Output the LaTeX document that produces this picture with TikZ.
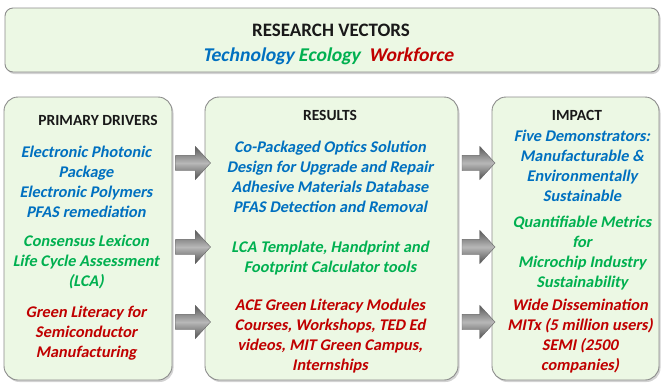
\documentclass[tikz,border=0pt]{standalone}
\usepackage{fontspec}
\setmainfont{Carlito}
\newfontfamily\slantfont{Carlito}[UprightFeatures={FakeSlant=0.2},BoldFeatures={FakeSlant=0.2}]
\usetikzlibrary{shapes.arrows,shadows}
\definecolor{techblue}{RGB}{0,112,192}
\definecolor{ecogreen}{RGB}{0,176,80}
\definecolor{workred}{RGB}{192,0,0}
\definecolor{panelfill}{RGB}{236,248,228}
\begin{document}
\begin{tikzpicture}[x=1pt,y=-1pt,font=\slantfont\bfseries\fontsize{16.3}{20}\selectfont,
  panel/.style={draw=black!45,line width=.9pt,fill=panelfill,rounded corners=14pt,
    drop shadow={opacity=.35,shadow xshift=1.5pt,shadow yshift=-2pt}},
  head/.style={font=\rmfamily\bfseries\fontsize{15.5}{19}\selectfont,text=black!90},
  items/.style={align=center},
  fatarrow/.style={single arrow,single arrow head extend=9pt,single arrow tip angle=95,
    inner xsep=0pt,inner ysep=7.5pt,minimum width=1pt,draw=black!60,line width=.4pt,
    top color=black!65,bottom color=black!68,middle color=black!28}]
\useasboundingbox (0,0) rectangle (662,384);
% panels
\node[panel,rounded corners=8pt,minimum width=654pt,minimum height=64pt] (vectors) at (332,40) {};
\node[panel,minimum width=168pt,minimum height=283pt] (drivers) at (88,238.5) {};
\node[panel,minimum width=253pt,minimum height=283pt] (results) at (331.5,238.5) {};
\node[panel,minimum width=167pt,minimum height=283pt] (impact) at (575.5,238.5) {};
% arrows between the panels
\foreach \y in {163,247,322} {
  \path (drivers.east |- 0,\y) -- (results.west |- 0,\y)
    node[midway,fatarrow,minimum height=35pt,xshift=1pt] (dr\y) {};
  \path (results.east |- 0,\y) -- (impact.west |- 0,\y)
    node[midway,fatarrow,minimum height=33pt] (ri\y) {};
}
% research vectors
\node[head,font=\rmfamily\bfseries\fontsize{19}{22}\selectfont] (rvtitle) at (331,30) {RESEARCH VECTORS};
\node[font=\slantfont\bfseries\fontsize{19.5}{22}\selectfont] (rvlist) at (328,56)
  {\textcolor{techblue}{Technology} \textcolor{ecogreen}{Ecology}\ \ \textcolor{workred}{Workforce}};
% primary drivers
\node[head] (drhead) at (98,120) {PRIMARY DRIVERS};
\node[items,techblue] (drtech) at (86,182) {Electronic Photonic\\Package\\Electronic Polymers\\PFAS remediation};
\node[items,ecogreen] (dreco) at (86,262) {Consensus Lexicon\\Life Cycle Assessment\\(LCA)};
\node[items,workred] (drwork) at (86,333) {Green Literacy for\\Semiconductor\\Manufacturing};
% results
\node[head] (rshead) at (330,115) {RESULTS};
\node[items,techblue] (rstech) at (330,177) {Co-Packaged Optics Solution\\Design for Upgrade and Repair\\Adhesive Materials Database\\PFAS Detection and Removal};
\node[items,ecogreen] (rseco) at (330,258) {LCA Template, Handprint and\\Footprint Calculator tools};
\node[items,workred] (rswork) at (330,336.5) {ACE Green Literacy Modules\\Courses, Workshops, TED Ed\\videos, MIT Green Campus,\\Internships};
% impact
\node[head] (imhead) at (577,115) {IMPACT};
\node[items,techblue] (imtech) at (582,165.5) {Five Demonstrators:\\Manufacturable \&\\Environmentally\\Sustainable};
\node[items,ecogreen] (imeco) at (582,253) {Quantifiable Metrics\\for\\Microchip Industry\\Sustainability};
\node[items,workred] (imwork) at (580,336.5) {Wide Dissemination\\MITx (5 million users)\\SEMI (2500\\companies)};
\end{tikzpicture}
\end{document}
